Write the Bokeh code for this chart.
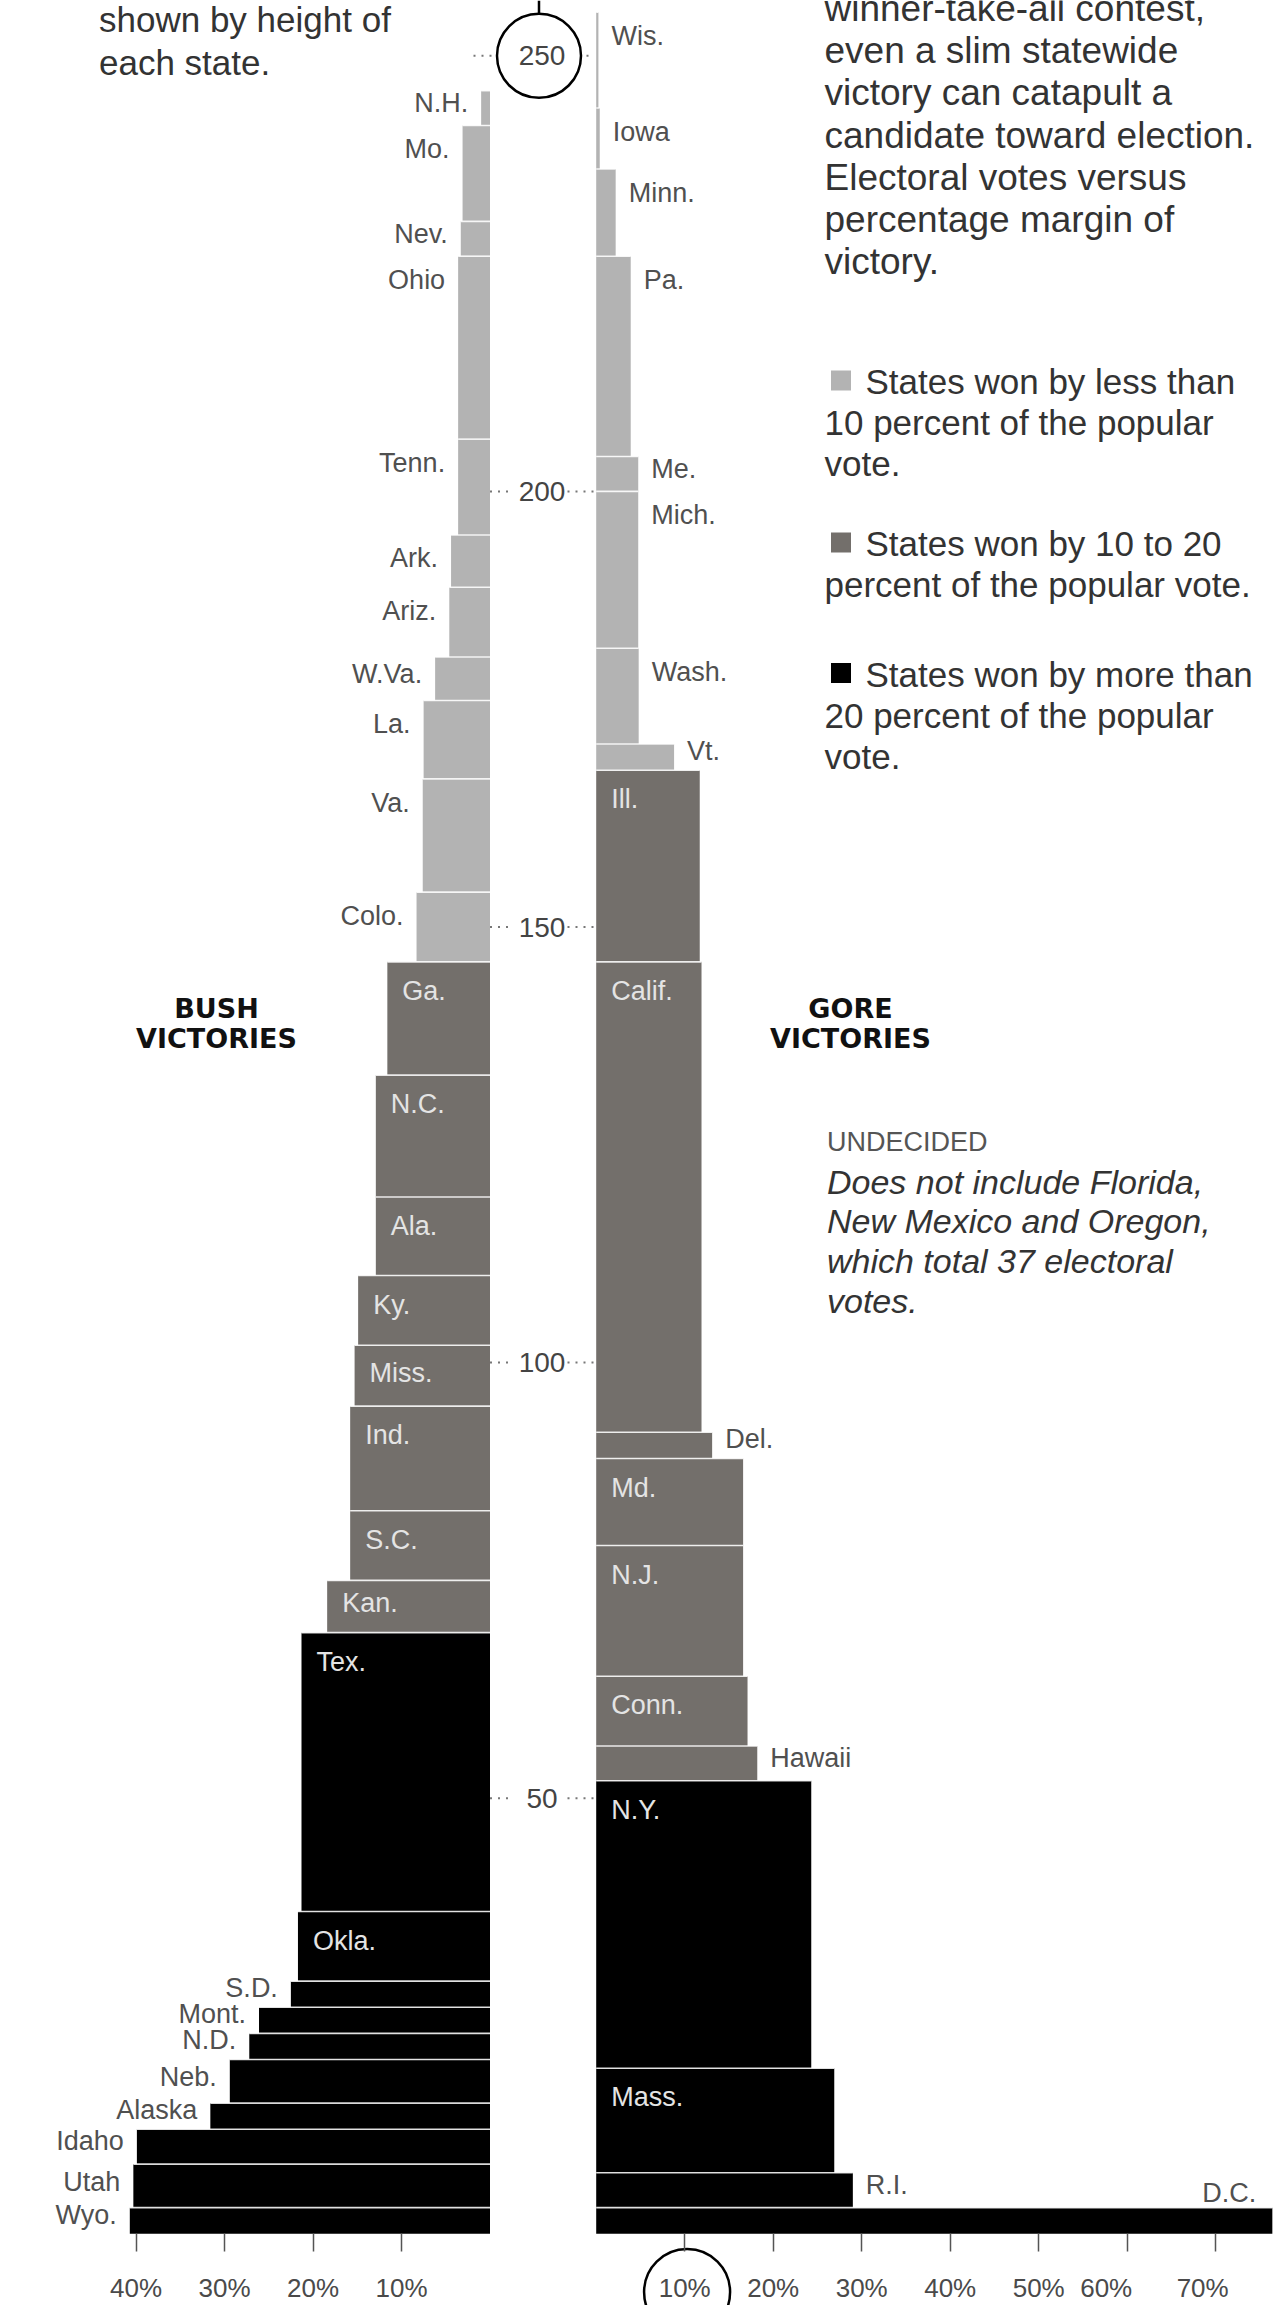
import numpy as np
from bokeh.plotting import figure
from bokeh.models import Range1d, LinearAxis, FixedTicker, ColumnDataSource
from bokeh.core.properties import value
from bokeh.embed import file_html
from bokeh.resources import INLINE

# ---------------- data (bottom of each stack first) ----------------
bush_states = ["Wyo.", "Utah", "Idaho", "Alaska", "Neb.", "N.D.", "Mont.", "S.D.", "Okla.", "Tex.",
               "Kan.", "S.C.", "Ind.", "Miss.", "Ky.", "Ala.", "N.C.", "Ga.", "Colo.", "Va.",
               "La.", "W.Va.", "Ariz.", "Ark.", "Tenn.", "Ohio", "Nev.", "Mo.", "N.H."]
bush_votes = [3, 5, 4, 3, 5, 3, 3, 3, 8, 32,
              6, 8, 12, 7, 8, 9, 14, 13, 8, 13,
              9, 5, 8, 6, 11, 21, 4, 11, 4]
bush_margin = [40.7, 40.3, 39.9, 31.6, 29.4, 27.2, 26.1, 22.5, 21.7, 21.3,
               18.4, 15.8, 15.8, 15.3, 14.9, 12.9, 12.9, 11.6, 8.3, 7.6,
               7.5, 6.2, 4.6, 4.4, 3.6, 3.6, 3.3, 3.1, 1.0]

gore_states = ["D.C.", "R.I.", "Mass.", "N.Y.", "Hawaii", "Conn.", "N.J.", "Md.", "Del.", "Calif.",
               "Ill.", "Vt.", "Wash.", "Mich.", "Me.", "Pa.", "Minn.", "Iowa", "Wis."]
gore_votes = [3, 4, 12, 33, 4, 8, 15, 10, 3, 54,
              22, 3, 11, 18, 4, 23, 10, 7, 11]
gore_margin = [76.4, 29.0, 26.9, 24.3, 18.2, 17.1, 16.6, 16.6, 13.1, 11.9,
               11.7, 8.8, 4.8, 4.75, 4.75, 3.9, 2.2, 0.4, 0.25]

vote_ticks = [50, 100, 150, 200, 250]
pct_ticks_bush = [10, 20, 30, 40]
pct_ticks_gore = [10, 20, 30, 40, 50, 60, 70]
highlight_vote_tick = 250
highlight_pct_tick = 10

category_limits = [10, 20]
category_colors = ["#b3b3b3", "#736f6b", "#000000"]
legend_lines = [
    ["States won by less than", "10 percent of the popular", "vote."],
    ["States won by 10 to 20", "percent of the popular vote."],
    ["States won by more than", "20 percent of the popular", "vote."],
]
intro_lines = ["winner-take-all contest,", "even a slim statewide", "victory can catapult a",
               "candidate toward election.", "Electoral votes versus", "percentage margin of", "victory."]
left_lines = ["shown by height of", "each state."]
undecided_title = "UNDECIDED"
undecided_lines = ["Does not include Florida,", "New Mexico and Oregon,",
                   "which total 37 electoral", "votes."]

# ---------------- layout ----------------
W, H = 1281, 2305
PAGE = 0
KX, KY = 8.85, 8.712          # px per percentage point, px per electoral vote
HALF_GAP = 6.0                # half the gap between the two stacks, in % units
BUSH_ZERO_PX = 489.5
ZERO_VOTE_PX = 2233.3
xr0 = -HALF_GAP - (BUSH_ZERO_PX - PAGE) / KX
xr1 = xr0 + W / KX
yr1 = (ZERO_VOTE_PX - PAGE) / KY
yr0 = yr1 - H / KY
GORE_LABEL_SHIFT_PX = {60: -21, 70: -13}   # the printed 60% / 70% labels sit left of their ticks


def ux(px):
    return xr0 + (px - PAGE) / KX


def vy(py):
    return yr1 - (py - PAGE) / KY


FONT = "Liberation Sans"

p = figure(width=W, height=H, x_range=Range1d(xr0, xr1), y_range=Range1d(yr0, yr1),
           output_backend="svg", toolbar_location=None,
           x_axis_location=None, y_axis_location=None, min_border=0,
           outline_line_color=None, background_fill_color="white", border_fill_color="white")
p.grid.visible = False


def color_for(m):
    if m < category_limits[0]:
        return category_colors[0]
    if m < category_limits[1]:
        return category_colors[1]
    return category_colors[2]


def build(states, votes, margin, side):
    votes = np.array(votes, float)
    margin = np.array(margin, float)
    top = np.cumsum(votes)
    bottom = top - votes
    if side == "bush":
        inner = np.full_like(margin, -HALF_GAP)
        outer = -HALF_GAP - margin
        left, right = outer, inner
    else:
        inner = np.full_like(margin, HALF_GAP)
        outer = HALF_GAP + margin
        left, right = inner, outer
    return dict(state=list(states), votes=votes, margin=margin, bottom=bottom, top=top,
                left=left, right=right, inner=inner, outer=outer,
                color=[color_for(m) for m in margin])


def label_y(top, votes, cap):
    return top - min(max(0.6 * votes - 1.0, 0.5), cap)


groups = {"inside": ([], [], []), "out_left": ([], [], []), "out_right": ([], [], []), "above": ([], [], [])}

for side, st, vo, ma in (("bush", bush_states, bush_votes, bush_margin),
                         ("gore", gore_states, gore_votes, gore_margin)):
    d = build(st, vo, ma, side)
    src = ColumnDataSource(d)
    p.quad(left="left", right="right", bottom="bottom", top="top", fill_color="color",
           line_color=None, source=src)
    p.segment(x0="left", x1="right", y0="top", y1="top", line_color="white",
              line_width=1.6, line_alpha=0.85, source=src)
    for i, name in enumerate(d["state"]):
        v, m, top = d["votes"][i], d["margin"][i], d["top"][i]
        if m >= category_limits[0] and v >= 6:
            g = groups["inside"]
            g[0].append(d["left"][i]); g[1].append(label_y(top, v, 3.35)); g[2].append(name)
        elif side == "bush":
            g = groups["out_left"]
            g[0].append(d["outer"][i]); g[1].append(label_y(top, v, 2.75)); g[2].append(name)
        elif d["outer"][i] + 8 > xr1:
            g = groups["above"]
            g[0].append(d["outer"][i]); g[1].append(top + 15 / KY); g[2].append(name)
        else:
            g = groups["out_right"]
            g[0].append(d["outer"][i]); g[1].append(label_y(top, v, 2.75)); g[2].append(name)

label_style = {
    "inside": dict(text_align="left", x_offset=15, text_color="#e4e4e4"),
    "out_left": dict(text_align="right", x_offset=-13, text_color="#505050"),
    "out_right": dict(text_align="left", x_offset=13, text_color="#505050"),
    "above": dict(text_align="right", x_offset=-16, text_color="#505050"),
}
for key, (xs, ys, ts) in groups.items():
    if xs:
        p.text(x=xs, y=ys, text=ts, text_font=value(FONT), text_font_size="27px",
               text_baseline="middle", **label_style[key])

# ---------------- central electoral-vote scale ----------------
LBL_X = ux(541.5)
lx0, lx1, rx0, rx1 = [], [], [], []
for v in vote_ticks:
    if v == highlight_vote_tick:
        lx0.append(ux(473)); lx1.append(ux(493)); rx0.append(ux(586)); rx1.append(ux(593))
    else:
        lx0.append(-HALF_GAP); lx1.append(ux(512)); rx0.append(ux(567)); rx1.append(HALF_GAP)
p.segment(x0=lx0, x1=lx1, y0=vote_ticks, y1=vote_ticks, line_color="#777777",
          line_width=2, line_dash="2 6")
p.segment(x0=rx0, x1=rx1, y0=vote_ticks, y1=vote_ticks, line_color="#777777",
          line_width=2, line_dash="2 6")
p.text(x=[LBL_X] * len(vote_ticks), y=vote_ticks, text=[str(v) for v in vote_ticks],
       text_font=value(FONT), text_font_size="28px", text_color="#444444",
       text_align="center", text_baseline="middle")

CIRCLE_D = 84
cx = ux(538.5)
p.scatter(x=[cx], y=[highlight_vote_tick], marker="circle", size=CIRCLE_D,
          fill_color=None, line_color="black", line_width=2.5)
p.segment(x0=[cx], x1=[cx], y0=[highlight_vote_tick + (CIRCLE_D / 2) / KY], y1=[yr1],
          line_color="black", line_width=2.5)

# ---------------- percentage axis ----------------
tick_pos = [-HALF_GAP - t for t in pct_ticks_bush] + [HALF_GAP + t for t in pct_ticks_gore]
tick_pct = pct_ticks_bush + pct_ticks_gore
n_bush = len(pct_ticks_bush)
overrides = {}
shift_ticks, shift_overrides = [], {}
for i, (pos, pct) in enumerate(zip(tick_pos, tick_pct)):
    txt = f"{pct}%"
    if i >= n_bush and pct in GORE_LABEL_SHIFT_PX:
        sp = round(pos + GORE_LABEL_SHIFT_PX[pct] / KX, 2)
        shift_ticks.append(sp)
        shift_overrides[sp] = txt
        shift_overrides[str(sp)] = txt
        txt = ""
    overrides[int(pos)] = txt
    overrides[str(int(pos))] = txt


def style_axis(ax, tick_color):
    ax.axis_line_color = None
    ax.major_tick_in = 0
    ax.major_tick_out = 18
    ax.major_tick_line_color = tick_color
    ax.major_tick_line_width = 1.5
    ax.minor_tick_line_color = None
    ax.major_label_standoff = 21
    ax.major_label_text_font = FONT
    ax.major_label_text_font_size = "26px"
    ax.major_label_text_color = "#4a4a4a"


xaxis = LinearAxis(fixed_location=0, ticker=FixedTicker(ticks=tick_pos),
                   major_label_overrides=overrides)
style_axis(xaxis, "#555555")
p.add_layout(xaxis, "below")

xaxis_shifted = LinearAxis(fixed_location=0, ticker=FixedTicker(ticks=shift_ticks),
                           major_label_overrides=shift_overrides)
style_axis(xaxis_shifted, None)
p.add_layout(xaxis_shifted, "below")

hx = HALF_GAP + highlight_pct_tick
p.scatter(x=[hx + 0.27], y=[vy(2291.6)], marker="circle", size=86,
          fill_color=None, line_color="black", line_width=2.5)

# ---------------- texts ----------------


def add_lines(lines, x_px, y0_px, step_px, size, color="#333333", style="normal",
              align="left", font=FONT):
    ys = [vy(y0_px + i * step_px) for i in range(len(lines))]
    p.text(x=[ux(x_px)] * len(lines), y=ys, text=lines, text_font=value(font),
           text_font_size=f"{size}px", text_color=color, text_align=align,
           text_baseline="middle", text_font_style=style)


add_lines(intro_lines, 824, 8, 42.2, 37)
add_lines(left_lines, 98.5, 19, 42.5, 35)

leg_y0 = [381, 543, 673.5]
for lines, y0, col in zip(legend_lines, leg_y0, category_colors):
    p.scatter(x=[ux(840.5)], y=[vy(y0 - 1)], marker="square", size=20, fill_color=col, line_color=None)
    add_lines(lines[:1], 865, y0, 41, 35)
    add_lines(lines[1:], 824, y0 + 41, 41, 35)

add_lines([undecided_title], 826.5, 1141, 40, 27, color="#555555")
add_lines(undecided_lines, 826.5, 1181, 39.7, 34, style="italic")

add_lines(["BUSH", "VICTORIES"], 216, 1007.5, 30.5, 27, color="#111111", style="bold",
          align="center", font="DejaVu Sans")
add_lines(["GORE", "VICTORIES"], 850, 1007.5, 30.5, 27, color="#111111", style="bold",
          align="center", font="DejaVu Sans")

open("out.html", "w").write(file_html(p, INLINE, title="Electoral votes vs margin of victory"))
